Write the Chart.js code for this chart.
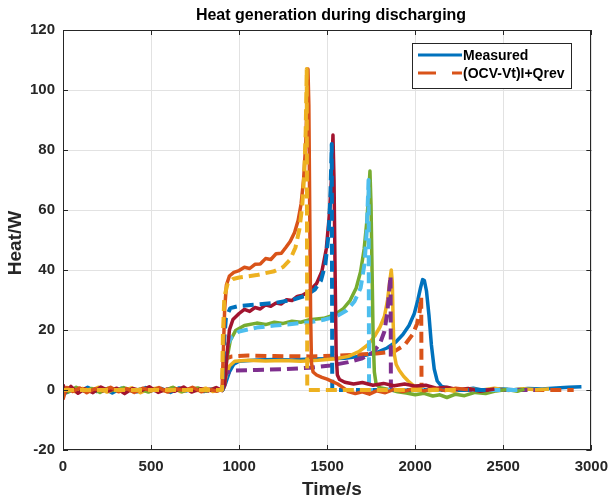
<!DOCTYPE html>
<html>
<head>
<meta charset="utf-8">
<script src="https://cdn.jsdelivr.net/npm/chart.js@4.4.1/dist/chart.umd.min.js"></script>
<style>
  html, body { margin: 0; padding: 0; background: #fff; }
  canvas { display: block; }
</style>
</head>
<body>
<canvas id="heat" width="616" height="501"></canvas>
<script>
// Heat generation during discharging - measured (solid) vs (OCV-Vt)I+Qrev (dashed)
// each series: [time s, heat W]

const xTicks = [0, 500, 1000, 1500, 2000, 2500, 3000];
const yTicks = [-20, 0, 20, 40, 60, 80, 100, 120];

const meas1 = [[0,0.6],[20,-0.9],[60,0.4],[100,-0.3],[140,0.9],[190,-0.5],[240,0.3],[280,-1.0],[330,0.6],[380,0.1],[420,-0.6],[470,0.8],[520,-0.2],[560,0.5],[610,-0.8],[660,0.7],[700,-0.3],[750,0.4],[800,-0.5],[840,0.3],[880,-0.2],[910,0.3],[925,2.5],[945,6.0],[970,8.6],[1000,9.6],[1100,10.0],[1200,10.2],[1300,10.0],[1400,10.3],[1500,10.4],[1600,10.6],[1700,11.3],[1780,12.5],[1840,14.0],[1890,16.0],[1930,18.5],[1965,21.5],[1995,25.5],[2015,30.0],[2030,34.0],[2042,36.8],[2052,36.5],[2064,33.0],[2078,25.0],[2092,15.0],[2108,7.0],[2125,3.0],[2150,1.2],[2200,0.5],[2260,0.0],[2330,0.6],[2400,-0.2],[2480,0.4],[2560,0.1],[2640,0.5],[2720,0.3],[2800,0.7],[2870,0.9],[2944,1.1]];
const model1 = [[0,0],[905,0],[912,7],[925,10.5],[960,11.2],[1050,11.5],[1200,11.3],[1400,11.2],[1550,11.4],[1680,11.8],[1780,12.2],[1880,12.8],[1940,15.0],[1985,18.5],[2010,22.0],[2025,26.0],[2034,31.0],[2036,0],[2900,0]];

const meas2 = [[0,-0.4],[25,0.8],[70,-0.6],[110,0.5],[160,-0.2],[200,0.9],[250,-0.7],[300,0.4],[340,-0.3],[390,0.7],[440,-0.9],[480,0.2],[530,0.6],[580,-0.4],[620,0.8],[670,-0.6],[720,0.3],[760,-0.2],[810,0.6],[850,-0.5],[895,0.2],[912,0.5],[925,4.5],[945,8.0],[975,9.6],[1050,9.9],[1150,9.7],[1250,9.8],[1350,9.6],[1450,9.9],[1550,10.4],[1620,11.2],[1680,12.8],[1730,15.0],[1770,18.0],[1800,21.0],[1825,24.5],[1843,30.0],[1855,36.0],[1864,40.0],[1870,36.0],[1875,22.0],[1881,12.0],[1892,8.5],[1910,6.5],[1935,4.5],[1960,3.0],[1990,1.5],[2030,0.6],[2080,-0.3],[2150,0.5],[2220,-0.4],[2300,0.3],[2380,0.0],[2450,0.6],[2530,-0.2],[2610,0.4],[2690,0.1],[2760,0.3]];
const model2 = [[0,0],[905,0],[913,3.5],[930,5.8],[970,6.5],[1100,6.7],[1250,6.9],[1400,7.4],[1520,8.2],[1620,9.3],[1700,10.6],[1760,12.5],[1800,15.5],[1825,19.5],[1842,26.0],[1852,33.0],[1860,38.0],[1862,0],[2680,0]];

const meas3 = [[0,0.3],[30,-0.7],[75,0.9],[120,-0.4],[165,0.5],[210,-0.8],[255,0.6],[295,-0.2],[345,0.8],[395,-0.5],[435,0.3],[485,-0.7],[535,0.5],[575,-0.1],[625,0.9],[675,-0.6],[715,0.2],[765,0.7],[815,-0.4],[860,0.5],[900,-0.1],[915,1.5],[930,10.0],[950,16.5],[980,19.8],[1030,21.5],[1100,22.3],[1150,21.8],[1200,22.6],[1250,22.2],[1300,22.9],[1350,22.6],[1400,23.4],[1480,23.9],[1540,25.0],[1590,27.0],[1630,29.8],[1665,34.0],[1690,39.5],[1710,47.0],[1725,56.0],[1736,66.0],[1743,73.0],[1749,62.0],[1755,40.0],[1761,18.0],[1768,6.0],[1778,2.0],[1800,0.8],[1850,0.2],[1900,-0.6],[1950,-1.0],[2000,-1.6],[2050,-1.1],[2100,-2.0],[2140,-1.6],[2180,-2.5],[2230,-1.4],[2280,-1.9],[2340,-0.8],[2400,-1.2],[2460,-0.3],[2520,0.2],[2580,-0.4],[2620,0.3]];
const model3 = [[0,0],[905,0],[913,8.0],[930,14.5],[955,17.5],[1000,19.5],[1100,20.8],[1200,21.5],[1300,22.0],[1400,22.6],[1480,23.4],[1550,24.5],[1610,26.5],[1655,29.5],[1690,34.0],[1712,42.0],[1725,53.0],[1735,70.0],[1738,0],[2600,0]];

const meas4 = [[0,1.8],[15,-0.6],[45,1.2],[85,-1.1],[125,0.4],[170,-0.9],[215,1.0],[260,-0.3],[305,0.6],[350,-1.2],[395,0.5],[445,-0.2],[490,1.1],[540,-0.8],[590,0.3],[635,-0.4],[685,1.0],[730,-0.7],[780,0.4],[825,-0.3],[870,0.8],[905,-0.2],[918,1.5],[930,11.0],[945,20.0],[965,23.5],[1000,25.5],[1030,26.9],[1060,26.2],[1090,27.5],[1120,27.0],[1150,28.4],[1180,27.9],[1210,29.0],[1240,28.7],[1270,30.1],[1300,29.8],[1330,31.2],[1360,31.6],[1400,33.0],[1440,35.5],[1470,39.5],[1495,47.0],[1512,58.0],[1524,70.0],[1533,85.0],[1539,70.0],[1545,40.0],[1551,12.0],[1558,5.0],[1570,3.5],[1600,2.6],[1650,2.0],[1700,2.5],[1760,1.6],[1820,2.2],[1880,1.4],[1940,2.0],[2000,1.3],[2060,1.6],[2120,0.6],[2180,0.9],[2240,0.1],[2300,0.5],[2370,-0.4],[2450,0.3]];
const model4 = [[0,0],[905,0],[912,14.0],[925,24.0],[950,27.3],[1000,28.0],[1100,28.5],[1200,29.0],[1300,30.0],[1380,31.5],[1430,33.5],[1465,36.5],[1490,42.0],[1508,52.0],[1518,64.0],[1526,82.0],[1529,0],[2400,0]];

const meas5 = [[0,-3.2],[8,-1.5],[20,0.8],[55,-0.5],[95,0.7],[135,-0.9],[180,0.4],[225,-0.3],[270,0.9],[315,-0.6],[360,0.5],[405,-0.8],[455,0.6],[500,-0.3],[545,0.8],[595,-0.7],[640,0.4],[690,-0.2],[735,0.9],[785,-0.6],[830,0.3],[875,-0.4],[903,0.2],[910,12.0],[918,27.0],[928,35.0],[945,38.0],[970,39.2],[1000,39.8],[1030,40.9],[1060,40.5],[1090,41.9],[1120,42.0],[1150,43.8],[1180,43.5],[1210,45.4],[1240,45.6],[1265,47.5],[1290,49.5],[1315,52.5],[1335,56.5],[1352,62.0],[1366,70.0],[1378,82.0],[1386,96.0],[1391,107.0],[1396,95.0],[1401,60.0],[1406,25.0],[1411,9.0],[1420,6.0],[1440,5.0],[1470,4.2],[1500,3.6],[1530,2.8],[1560,2.0],[1590,0.8],[1620,-0.5],[1660,-1.2],[1700,-0.6],[1740,-1.4],[1780,-0.3],[1830,-0.9],[1880,0.2],[1930,-0.5],[1990,0.4],[2050,-0.3],[2110,0.5],[2170,-0.2],[2230,0.6],[2300,0.1]];
const model5 = [[0,0],[903,0],[908,18.0],[916,31.0],[935,35.5],[965,37.0],[1000,37.5],[1100,38.3],[1200,39.6],[1250,41.0],[1290,43.5],[1320,47.5],[1342,53.5],[1358,61.0],[1370,72.0],[1378,86.0],[1384,107.0],[1387,0],[2250,0]];

const legendLabels = ['Measured', '(OCV-Vt)I+Qrev'];

// MATLAB default colour order, plotted in pairs: measured, model
const series = [
  { data: meas1, color: '#0072BD', dashed: false },
  { data: model1, color: '#D95319', dashed: true },
  { data: meas2, color: '#EDB120', dashed: false },
  { data: model2, color: '#7E2F8E', dashed: true },
  { data: meas3, color: '#77AC30', dashed: false },
  { data: model3, color: '#4DBEEE', dashed: true },
  { data: meas4, color: '#A2142F', dashed: false },
  { data: model4, color: '#0072BD', dashed: true },
  { data: meas5, color: '#D95319', dashed: false },
  { data: model5, color: '#EDB120', dashed: true },
];

const DASH = [11, 6];
const AXIS = '#262626';
const FONT = '"Liberation Sans", Arial, sans-serif';

const datasets = series.map((s, i) => ({
  label: i < 2 ? legendLabels[i] : 'series ' + i,
  data: s.data.map(([x, y]) => ({ x, y })),
  borderColor: s.color,
  backgroundColor: s.color,
  borderWidth: s.dashed ? 4 : 3.5,
  borderDash: s.dashed ? DASH : [],
  borderJoinStyle: 'round',
  pointRadius: 0,
  tension: 0,
  order: series.length - i, // later pairs drawn on top like MATLAB
}));

// axes box, inward ticks, titles and legend
const matlabFrame = {
  id: 'matlabFrame',
  afterDraw(chart) {
    const { ctx, chartArea: a, scales: { x, y } } = chart;
    ctx.save();
    ctx.strokeStyle = AXIS;
    ctx.lineWidth = 1;
    ctx.setLineDash([]);
    ctx.strokeRect(Math.round(a.left) + 0.5, Math.round(a.top) + 0.5, Math.round(a.right - a.left) - 1, Math.round(a.bottom - a.top) - 1);

    const tl = 5;
    ctx.beginPath();
    xTicks.forEach((v) => {
      const px = Math.round(x.getPixelForValue(v)) + 0.5;
      ctx.moveTo(px, a.bottom); ctx.lineTo(px, a.bottom - tl);
      ctx.moveTo(px, a.top); ctx.lineTo(px, a.top + tl);
    });
    yTicks.forEach((v) => {
      const py = Math.round(y.getPixelForValue(v)) + 0.5;
      ctx.moveTo(a.left, py); ctx.lineTo(a.left + tl, py);
      ctx.moveTo(a.right, py); ctx.lineTo(a.right - tl, py);
    });
    ctx.stroke();

    // titles
    ctx.fillStyle = '#000';
    ctx.textAlign = 'center';
    ctx.textBaseline = 'middle';
    ctx.font = 'bold 16px ' + FONT;
    ctx.fillText('Heat generation during discharging', 331, 16);
    ctx.fillStyle = AXIS;
    ctx.font = 'bold 19px ' + FONT;
    ctx.fillText('Time/s', 332, 490);
    ctx.save();
    ctx.translate(16, 243);
    ctx.rotate(-Math.PI / 2);
    ctx.fillText('Heat/W', 0, 0);
    ctx.restore();

    // legend box
    const lx = 412, ly = 43, lw = 159, lh = 45;
    ctx.fillStyle = '#fff';
    ctx.fillRect(lx, ly, lw, lh);
    ctx.strokeStyle = AXIS;
    ctx.strokeRect(lx + 0.5, ly + 0.5, lw, lh);
    ctx.font = 'bold 14px ' + FONT;
    ctx.textAlign = 'left';
    [0, 1].forEach((i) => {
      const rowY = ly + 12 + i * 18;
      ctx.strokeStyle = series[i].color;
      ctx.lineWidth = 3;
      ctx.setLineDash(series[i].dashed ? [18, 16] : []);
      ctx.beginPath();
      ctx.moveTo(lx + 6, rowY);
      ctx.lineTo(lx + 50, rowY);
      ctx.stroke();
      ctx.fillStyle = '#000';
      ctx.fillText(legendLabels[i], lx + 51, rowY + 1);
    });
    ctx.restore();
  },
};

const tickFont = { family: FONT, size: 15, weight: 'bold' };

new Chart(document.getElementById('heat').getContext('2d'), {
  type: 'line',
  data: { datasets },
  options: {
    responsive: false,
    animation: false,
    devicePixelRatio: 1,
    layout: { padding: { left: 0, right: 21, top: 30, bottom: 0 } },
    plugins: {
      legend: { display: false },
      title: { display: false },
      tooltip: { enabled: false },
    },
    scales: {
      x: {
        type: 'linear',
        min: 0,
        max: 3000,
        afterFit: (s) => { s.height = 51; },
        afterBuildTicks: (s) => { s.ticks = xTicks.map((v) => ({ value: v })); },
        grid: { color: '#e2e2e2', drawTicks: false },
        border: { display: false },
        ticks: { color: AXIS, padding: 8, maxRotation: 0, font: tickFont, callback: (v) => String(v) },
      },
      y: {
        type: 'linear',
        min: -20,
        max: 120,
        afterFit: (s) => { s.width = 63; },
        afterBuildTicks: (s) => { s.ticks = yTicks.map((v) => ({ value: v })); },
        grid: { color: '#e2e2e2', drawTicks: false },
        border: { display: false },
        ticks: { color: AXIS, padding: 8, font: tickFont, callback: (v) => String(v) },
      },
    },
  },
  plugins: [matlabFrame],
});
</script>
</body>
</html>
